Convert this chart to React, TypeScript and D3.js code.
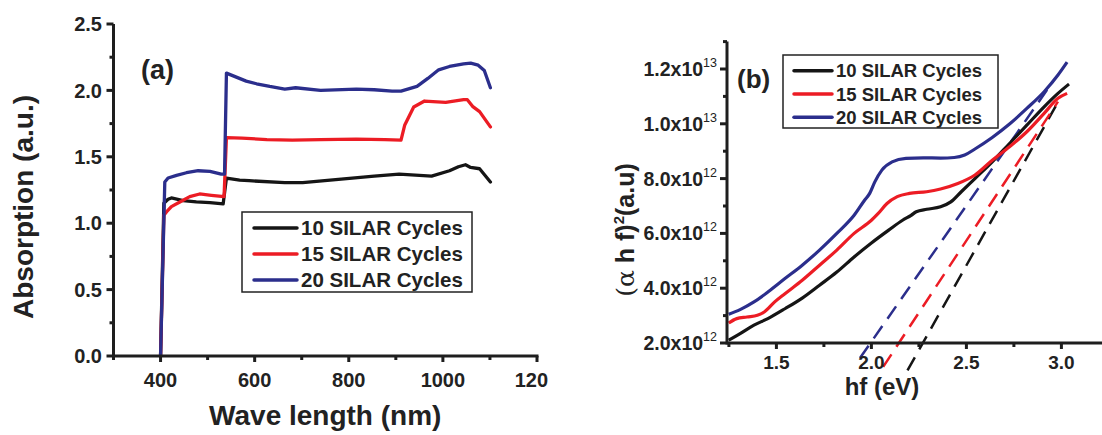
import React from 'react';
import * as d3 from 'd3';

// ---------- shared ----------
const legendLabels = ['10 SILAR Cycles', '15 SILAR Cycles', '20 SILAR Cycles'];
const seriesColors = ['#151515', '#ec1c24', '#2b2e8c'];

// ---------- panel (a): absorption vs wavelength ----------
const wl10 = [400, 407, 416, 423, 448, 476, 505, 533, 540, 568, 588, 664, 702, 778, 854, 907, 976, 1014, 1033, 1048, 1059, 1078, 1101];
const abs10 = [0, 1.15, 1.18, 1.19, 1.17, 1.16, 1.155, 1.145, 1.34, 1.325, 1.32, 1.305, 1.305, 1.33, 1.355, 1.37, 1.355, 1.395, 1.425, 1.44, 1.42, 1.41, 1.31];
const wl15 = [400, 407, 413, 423, 441, 462, 483, 508, 535, 540, 573, 626, 680, 740, 816, 877, 911, 919, 938, 961, 1006, 1044, 1052, 1063, 1078, 1101];
const abs15 = [0, 1.06, 1.087, 1.125, 1.16, 1.2, 1.22, 1.21, 1.2, 1.645, 1.64, 1.63, 1.625, 1.63, 1.633, 1.63, 1.625, 1.74, 1.875, 1.92, 1.91, 1.93, 1.93, 1.88, 1.84, 1.725];
const wl20 = [400, 409, 416, 434, 455, 480, 505, 529, 536, 540, 561, 582, 604, 632, 664, 687, 740, 816, 854, 892, 911, 945, 968, 991, 1014, 1029, 1044, 1059, 1075, 1088, 1101];
const abs20 = [0, 1.31, 1.34, 1.36, 1.38, 1.395, 1.39, 1.37, 1.37, 2.13, 2.10, 2.07, 2.05, 2.03, 2.01, 2.02, 2.0, 2.01, 2.005, 1.995, 1.995, 2.03, 2.09, 2.155, 2.18, 2.19, 2.2, 2.205, 2.19, 2.15, 2.02];
const aXTicks = [400, 600, 800, 1000, 1200];
const aXMinor = [300, 500, 700, 900, 1100];
const aYTicks = [0, 0.5, 1.0, 1.5, 2.0, 2.5];
const aYMinor = [0.25, 0.75, 1.25, 1.75, 2.25];

// ---------- panel (b): Tauc plot (values in units of 1e12) ----------
const hf10 = [1.249, 1.309, 1.382, 1.455, 1.545, 1.636, 1.727, 1.818, 1.909, 2.0, 2.091, 2.164, 2.209, 2.236, 2.291, 2.364, 2.418, 2.473, 2.545, 2.636, 2.727, 2.818, 2.909, 2.982, 3.04];
const tauc10 = [2.1, 2.34, 2.65, 2.89, 3.25, 3.64, 4.11, 4.59, 5.14, 5.65, 6.12, 6.48, 6.66, 6.79, 6.88, 6.97, 7.15, 7.52, 8.0, 8.61, 9.28, 9.95, 10.62, 11.11, 11.45];
const hf15 = [1.249, 1.291, 1.345, 1.4, 1.436, 1.491, 1.545, 1.636, 1.727, 1.818, 1.909, 2.0, 2.036, 2.082, 2.136, 2.2, 2.291, 2.364, 2.455, 2.545, 2.636, 2.727, 2.818, 2.909, 2.982, 3.03];
const tauc15 = [2.73, 2.89, 2.95, 3.01, 3.13, 3.5, 3.8, 4.29, 4.84, 5.39, 6.0, 6.48, 6.73, 7.09, 7.34, 7.46, 7.52, 7.62, 7.82, 8.13, 8.67, 9.16, 9.71, 10.38, 10.93, 11.11];
const hf20 = [1.249, 1.309, 1.382, 1.455, 1.545, 1.636, 1.727, 1.818, 1.909, 1.964, 1.991, 2.018, 2.055, 2.109, 2.182, 2.273, 2.364, 2.436, 2.491, 2.545, 2.636, 2.727, 2.818, 2.909, 2.982, 3.03];
const tauc20 = [3.05, 3.22, 3.5, 3.86, 4.35, 4.84, 5.39, 6.0, 6.66, 7.21, 7.46, 7.88, 8.31, 8.61, 8.74, 8.76, 8.75, 8.77, 8.86, 9.08, 9.5, 9.99, 10.56, 11.17, 11.78, 12.25];
// linear-fit extrapolation lines: [hf start, hf end], [value start, value end]
const fitHf10 = [2.19, 2.973];
const fitVal10 = [1.0, 10.68];
const fitHf15 = [2.062, 2.982];
const fitVal15 = [1.13, 10.81];
const fitHf20 = [1.94, 2.955];
const fitVal20 = [1.45, 11.54];
const bXTicks = [1.5, 2.0, 2.5, 3.0];
const bXMinor = [1.25, 1.75, 2.25, 2.75];
const bYTicks = [2, 4, 6, 8, 10, 12];
const bYMinor = [3, 5, 7, 9, 11, 13];
const bYLabels = [['2.0x10', '12'], ['4.0x10', '12'], ['6.0x10', '12'], ['8.0x10', '12'], ['1.0x10', '13'], ['1.2x10', '13']];

const FONT = 'Arial, "Liberation Sans", Helvetica, sans-serif';
const AXIS = '#1e1e1e';

const zip = (xs: number[], ys: number[]) => xs.map((x, i) => [x, ys[i]] as [number, number]);

export default function App() {
  // panel a scales
  const xA = d3.scaleLinear().domain([300, 1200]).range([113.5, 537]);
  const yA = d3.scaleLinear().domain([0, 2.5]).range([356, 24]);
  const lineA = d3.line<[number, number]>().x(d => xA(d[0])).y(d => yA(d[1]));
  const aSeries = [zip(wl10, abs10), zip(wl15, abs15), zip(wl20, abs20)];

  // panel b scales
  const xB = d3.scaleLinear().domain([1.24, 3.25]).range([727, 727 + 2.01 * 190]);
  const yB = d3.scaleLinear().domain([2, 13]).range([343, 41.6]);
  const lineB = d3.line<[number, number]>().x(d => xB(d[0])).y(d => yB(d[1])).curve(d3.curveMonotoneX);
  const lineBStraight = d3.line<[number, number]>().x(d => xB(d[0])).y(d => yB(d[1]));
  const bSeries = [zip(hf10, tauc10), zip(hf15, tauc15), zip(hf20, tauc20)];
  const bFits = [zip(fitHf10, fitVal10), zip(fitHf15, fitVal15), zip(fitHf20, fitVal20)];

  const [ax0, ax1] = xA.range();
  const [ay0, ay1] = yA.range();
  const [bx0] = xB.range();
  const [by0, by1] = yB.range();

  return (
    <svg width={1102} height={435} style={{ display: 'block', position: 'absolute', left: 0, top: 0, background: '#fff' }} fontFamily={FONT}>
      <style>{`body{margin:0}`}</style>
      <defs>
        <clipPath id="clipA"><rect x={0} y={0} width={548} height={435} /></clipPath>
      </defs>
      <rect x={0} y={0} width={1102} height={435} fill="#fff" />

      {/* ================= Panel (a) ================= */}
      <g clipPath="url(#clipA)">
        {aSeries.map((s, i) => (
          <path key={i} d={lineA(s) || ''} fill="none" stroke={seriesColors[i]} strokeWidth={3.3} strokeLinejoin="round" strokeLinecap="round" />
        ))}
        {/* axes */}
        <line x1={ax0} x2={ax1 + 1.5} y1={ay0} y2={ay0} stroke={AXIS} strokeWidth={3} />
        <line x1={ax0} x2={ax0} y1={ay0 + 1.5} y2={ay1} stroke={AXIS} strokeWidth={3} />
        {aXTicks.map(t => (
          <g key={t}>
            <line x1={xA(t)} x2={xA(t)} y1={ay0} y2={ay0 + 6} stroke={AXIS} strokeWidth={3} />
            <text x={xA(t)} y={387} textAnchor="middle" fontSize={20} fontWeight="bold" fill="#222">{t}</text>
          </g>
        ))}
        {aXMinor.map(t => (
          <line key={t} x1={xA(t)} x2={xA(t)} y1={ay0} y2={ay0 + 4} stroke={AXIS} strokeWidth={3} />
        ))}
        {aYTicks.map(t => (
          <g key={t}>
            <line x1={ax0 - 7} x2={ax0} y1={yA(t)} y2={yA(t)} stroke={AXIS} strokeWidth={3} />
            <text x={102} y={yA(t)} dy="0.36em" textAnchor="end" fontSize={20} fontWeight="bold" fill="#222">{t.toFixed(1)}</text>
          </g>
        ))}
        {aYMinor.map(t => (
          <line key={t} x1={ax0 - 4} x2={ax0} y1={yA(t)} y2={yA(t)} stroke={AXIS} strokeWidth={3} />
        ))}
        <text x={(ax0 + ax1) / 2} y={425} textAnchor="middle" fontSize={28} fontWeight="bold" fill="#222">Wave length (nm)</text>
        <text transform="translate(33,207) rotate(-90)" textAnchor="middle" fontSize={28} fontWeight="bold" fill="#222">Absorption (a.u.)</text>
        <text x={141} y={79} fontSize={27} fontWeight="bold" fill="#222">(a)</text>
        {/* legend a */}
        <rect x={242} y={212} width={230} height={80} fill="#fff" stroke="#222" strokeWidth={1.5} />
        {legendLabels.map((lab, i) => (
          <g key={lab}>
            <line x1={254} x2={297} y1={228 + i * 26} y2={228 + i * 26} stroke={seriesColors[i]} strokeWidth={3.5} strokeLinecap="round" />
            <text x={301} y={228 + i * 26} dy="0.36em" fontSize={20.5} fontWeight="bold" fill="#222">{lab}</text>
          </g>
        ))}
      </g>

      {/* ================= Panel (b) ================= */}
      <g>
        {bFits.map((s, i) => (
          <path key={'f' + i} d={lineBStraight(s) || ''} fill="none" stroke={seriesColors[i]} strokeWidth={2.5} strokeDasharray="15,9" />
        ))}
        {bSeries.map((s, i) => (
          <path key={i} d={lineB(s) || ''} fill="none" stroke={seriesColors[i]} strokeWidth={3.2} strokeLinejoin="round" />
        ))}
        <line x1={bx0} x2={1102} y1={by0} y2={by0} stroke={AXIS} strokeWidth={3} />
        <line x1={bx0} x2={bx0} y1={by0 + 1.5} y2={by1} stroke={AXIS} strokeWidth={3} />
        {bXTicks.map(t => (
          <g key={t}>
            <line x1={xB(t)} x2={xB(t)} y1={by0} y2={by0 + 6} stroke={AXIS} strokeWidth={3} />
            <text x={xB(t)} y={369} textAnchor="middle" fontSize={19} fontWeight="bold" fill="#222">{t.toFixed(1)}</text>
          </g>
        ))}
        {bXMinor.map(t => (
          <line key={t} x1={xB(t)} x2={xB(t)} y1={by0} y2={by0 + 4} stroke={AXIS} strokeWidth={3} />
        ))}
        {bYTicks.map((t, i) => (
          <g key={t}>
            <line x1={bx0 - 7} x2={bx0} y1={yB(t)} y2={yB(t)} stroke={AXIS} strokeWidth={3} />
            <text x={717} y={yB(t) + 7} textAnchor="end" fontSize={19.5} fontWeight="bold" fill="#222">
              {bYLabels[i][0]}
              <tspan fontSize={12.5} fontWeight="normal" dy={-9}>{bYLabels[i][1]}</tspan>
            </text>
          </g>
        ))}
        {bYMinor.map(t => (
          <line key={t} x1={bx0 - 4} x2={bx0} y1={yB(t)} y2={yB(t)} stroke={AXIS} strokeWidth={3} />
        ))}
        <text x={882} y={395} textAnchor="middle" fontSize={24} fontWeight="bold" fill="#222">hf (eV)</text>
        <text transform="translate(634,230) rotate(-90)" textAnchor="middle" fontSize={25} fill="#222">
          <tspan fontFamily="'DejaVu Serif', serif" fontWeight="normal">(α</tspan>
          <tspan fontWeight="bold"> h f)</tspan>
          <tspan fontWeight="bold" fontSize={15} dy={-10}>2</tspan>
          <tspan fontWeight="bold" dy={10}>(a.u)</tspan>
        </text>
        <text x={737} y={88} fontSize={26} fontWeight="bold" fill="#222">(b)</text>
        {/* legend b */}
        <rect x={783} y={55} width={215} height={73} fill="#fff" stroke="#222" strokeWidth={1.5} />
        {legendLabels.map((lab, i) => (
          <g key={lab}>
            <line x1={794} x2={832} y1={70.7 + i * 23.3} y2={70.7 + i * 23.3} stroke={seriesColors[i]} strokeWidth={3.5} strokeLinecap="round" />
            <text x={836} y={70.7 + i * 23.3} dy="0.36em" fontSize={18.5} fontWeight="bold" fill="#222">{lab}</text>
          </g>
        ))}
      </g>
    </svg>
  );
}
